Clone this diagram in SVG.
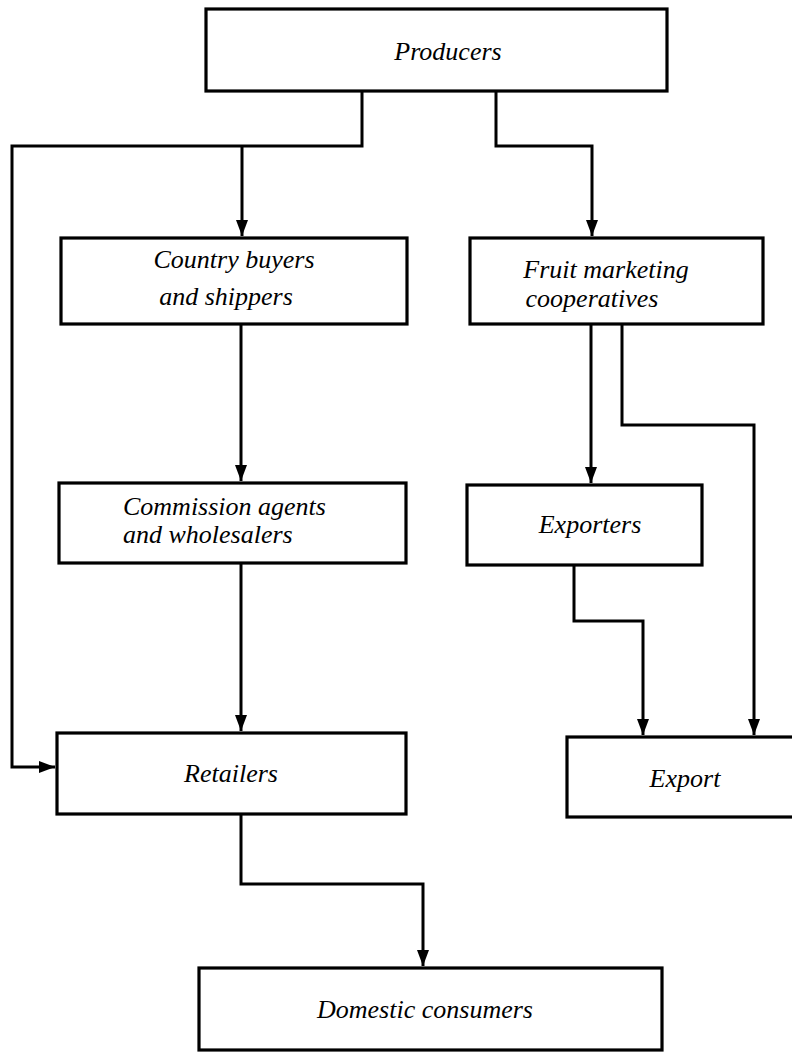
<svg xmlns="http://www.w3.org/2000/svg" width="792" height="1052" viewBox="0 0 792 1052">
<style>
.box{fill:#fff;stroke:#000;stroke-width:3.2}
.lbl{font-family:"Liberation Serif",serif;font-style:italic;font-size:26px;fill:#000}
.c{text-anchor:middle}
.conn{fill:none;stroke:#000;stroke-width:3;stroke-linejoin:miter}
</style>
<defs>
<marker id="ah" viewBox="0 0 16 12" refX="16" refY="6" markerWidth="16" markerHeight="12" markerUnits="userSpaceOnUse" orient="auto">
<path d="M0,0 L16,6 L0,12 z" fill="#000"/>
</marker>
</defs>
<rect width="792" height="1052" fill="#fff"/>
<g id="connectors">
<path class="conn" d="M362,91 V146 H12 V767 H55" marker-end="url(#ah)"/>
<path class="conn" d="M242,146 V236" marker-end="url(#ah)"/>
<path class="conn" d="M496,91 V146 H592 V236" marker-end="url(#ah)"/>
<path class="conn" d="M241,324 V481" marker-end="url(#ah)"/>
<path class="conn" d="M591,324 V483" marker-end="url(#ah)"/>
<path class="conn" d="M622,324 V425 H754 V735" marker-end="url(#ah)"/>
<path class="conn" d="M241,563 V731" marker-end="url(#ah)"/>
<path class="conn" d="M574,565 V621 H643 V735" marker-end="url(#ah)"/>
<path class="conn" d="M241,814 V884 H423 V966" marker-end="url(#ah)"/>
</g>
<g id="producers">
<rect class="box" x="206" y="9" width="461" height="82"/>
<text class="lbl c" x="448" y="60">Producers</text>
</g>
<g id="country-buyers">
<rect class="box" x="61" y="238" width="346" height="86"/>
<text class="lbl c" x="234" y="268">Country buyers</text>
<text class="lbl c" x="226" y="305">and shippers</text>
</g>
<g id="fruit-coops">
<rect class="box" x="470" y="238" width="293" height="86"/>
<text class="lbl c" x="606" y="278">Fruit marketing</text>
<text class="lbl c" x="592" y="307">cooperatives</text>
</g>
<g id="commission">
<rect class="box" x="59" y="483" width="347" height="80"/>
<text class="lbl" x="123" y="515">Commission agents</text>
<text class="lbl" x="123" y="543">and wholesalers</text>
</g>
<g id="exporters">
<rect class="box" x="467" y="485" width="235" height="80"/>
<text class="lbl c" x="590" y="533">Exporters</text>
</g>
<g id="retailers">
<rect class="box" x="57" y="733" width="349" height="81"/>
<text class="lbl c" x="231" y="782">Retailers</text>
</g>
<g id="export">
<rect class="box" x="567" y="737" width="240" height="80"/>
<text class="lbl c" x="685" y="787">Export</text>
</g>
<g id="domestic">
<rect class="box" x="199" y="968" width="463" height="82"/>
<text class="lbl c" x="425" y="1018">Domestic consumers</text>
</g>
</svg>
